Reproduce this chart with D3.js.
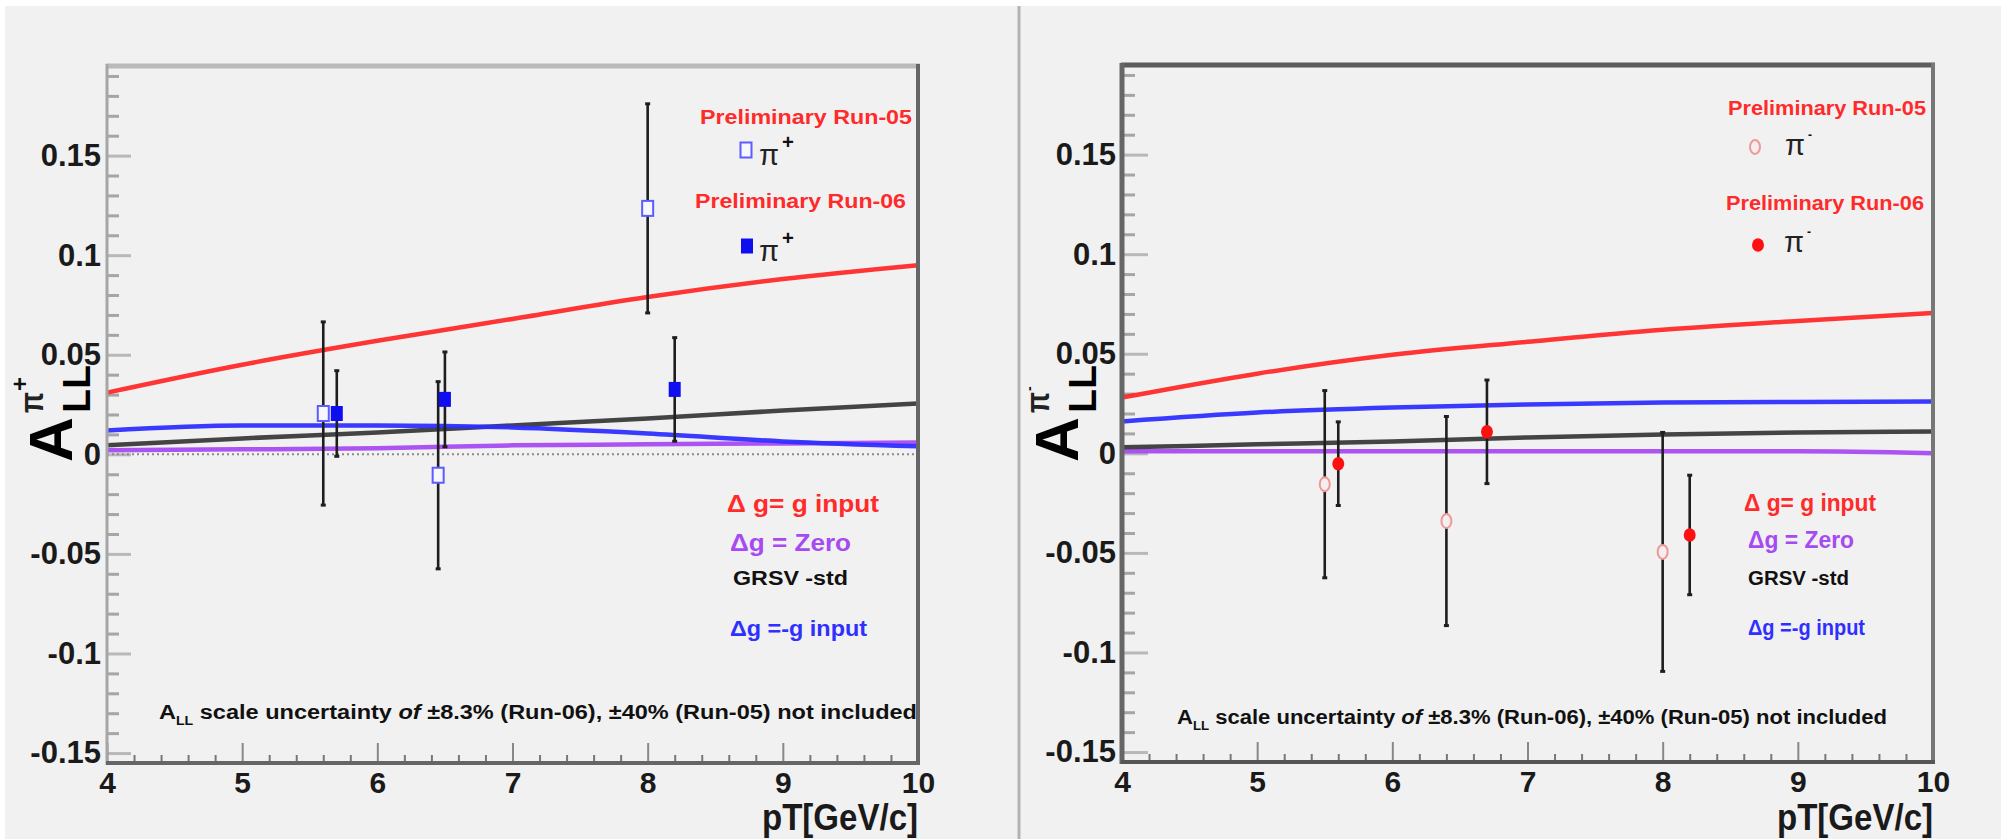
<!DOCTYPE html>
<html><head><meta charset="utf-8">
<script src="https://cdn.jsdelivr.net/npm/d3@7"></script>
<style>
html,body{margin:0;padding:0;background:#fff;overflow:hidden}
svg{display:block}
text{font-family:'Liberation Sans',Arial,Helvetica,sans-serif}
</style></head><body>
<script>
// ---------- data ----------
const xTickValues = [4,5,6,7,8,9,10];
const xTickLabels = ["4","5","6","7","8","9","10"];
const yTickValues = [-0.15,-0.1,-0.05,0,0.05,0.1,0.15];
const yTickLabels = ["-0.15","-0.1","-0.05","0","0.05","0.1","0.15"];
const modelPt = [4,5,6,7,8,9,10];

// pi+ theory curves
const piPlusGInput = [0.031,0.045,0.057,0.068,0.079,0.088,0.095];
const piPlusZero   = [0.002,0.0025,0.003,0.0045,0.005,0.0055,0.006];
const piPlusStd    = [0.0045,0.008,0.011,0.0145,0.018,0.022,0.0255];
const piPlusMinusG = [0.012,0.0145,0.0145,0.0135,0.0105,0.0065,0.004];
// pi- theory curves
const piMinusGInput = [0.028,0.040,0.0495,0.056,0.062,0.0665,0.0705];
const piMinusZero   = [0.001,0.001,0.001,0.001,0.001,0.001,0.0];
const piMinusStd    = [0.003,0.0045,0.006,0.008,0.0095,0.0105,0.011];
const piMinusMinusG = [0.016,0.0205,0.023,0.0245,0.0255,0.0258,0.026];

// pi+ measurements
const piPlusRun05Pt  = [5.6,6.45,8.0];
const piPlusRun05A   = [0.0205,-0.0105,0.1235];
const piPlusRun05Err = [0.046,0.047,0.0525];
const piPlusRun06Pt  = [5.7,6.5,8.2];
const piPlusRun06A   = [0.0205,0.0276,0.0326];
const piPlusRun06Err = [0.0215,0.0238,0.026];
// pi- measurements
const piMinusRun05Pt  = [5.5,6.4,8.0];
const piMinusRun05A   = [-0.0155,-0.034,-0.0495];
const piMinusRun05Err = [0.047,0.0525,0.06];
const piMinusRun06Pt  = [5.6,6.7,8.2];
const piMinusRun06A   = [-0.0052,0.0108,-0.041];
const piMinusRun06Err = [0.021,0.026,0.030];

const yMinorTicks = d3.range(-15,20).map(i=>i/100).filter(v=>!yTickValues.some(t=>Math.abs(t-v)<1e-9));
const xMinorTicks = d3.range(20,51).map(i=>i/5).filter(v=>!xTickValues.includes(v));

// ---------- drawing ----------
const W=2001,H=839;
const svg=d3.select("body").append("svg").attr("width",W).attr("height",H);
svg.append("rect").attr("width",W).attr("height",H).attr("fill","#fff");
svg.append("rect").attr("x",5).attr("y",6).attr("width",W-5).attr("height",H-6).attr("fill","#f1f1f1");
svg.append("line").attr("x1",1019).attr("x2",1019).attr("y1",6).attr("y2",H).attr("stroke","#b3b3b3").attr("stroke-width",3);

const RED="#ff2a2a", BLUE="#2f2fff", PURPLE="#a64af2", BLACK="#3a3a3a";

function txt(g,x,y,s,o){
  const t=g.append("text").attr("x",x).attr("y",y).text(s)
    .attr("font-size",o.size).attr("font-weight",o.weight||"bold").attr("fill",o.color||"#111");
  if(o.len){t.attr("textLength",o.len).attr("lengthAdjust","spacingAndGlyphs");}
  if(o.anchor) t.attr("text-anchor",o.anchor);
  return t;
}

function drawPanel(p){
  const g=svg.append("g");
  const x=d3.scaleLinear().domain([4,10]).range([p.x0,p.x1]);
  const y=d3.scaleLinear().domain([-0.155,0.195]).range([p.y1,p.y0]);

  // y minor & major ticks
  const yMin=g.append("g").attr("transform",`translate(${p.x0},0)`)
    .call(d3.axisLeft(y).tickValues(yMinorTicks).tickSize(-p.yMinorLen).tickFormat(""));
  yMin.select(".domain").remove();
  yMin.selectAll("line").attr("stroke","#a5a5a5").attr("stroke-width",3);
  const yMaj=g.append("g").attr("transform",`translate(${p.x0},0)`)
    .call(d3.axisLeft(y).tickValues(yTickValues).tickSize(-p.yMajorLen).tickPadding(p.yPad).tickFormat((d,i)=>yTickLabels[i]));
  yMaj.select(".domain").remove();
  yMaj.selectAll("line").attr("stroke","#b8b8b8").attr("stroke-width",3);
  yMaj.selectAll("text").attr("font-size",31).attr("font-weight","bold").attr("fill","#1a1a1a")
    .attr("font-family","'Liberation Sans',Arial,sans-serif");

  // x ticks
  const xMin=g.append("g").attr("transform",`translate(0,${p.y1})`)
    .call(d3.axisBottom(x).tickValues(xMinorTicks).tickSize(-8).tickFormat(""));
  xMin.select(".domain").remove();
  xMin.selectAll("line").attr("stroke","#777").attr("stroke-width",2);
  const xMaj=g.append("g").attr("transform",`translate(0,${p.y1})`)
    .call(d3.axisBottom(x).tickValues(xTickValues).tickSize(-20).tickPadding(9).tickFormat((d,i)=>xTickLabels[i]));
  xMaj.select(".domain").remove();
  xMaj.selectAll("line").attr("stroke","#888").attr("stroke-width",2);
  xMaj.selectAll("text").attr("font-size",30).attr("font-weight","bold").attr("fill","#1a1a1a")
    .attr("font-family","'Liberation Sans',Arial,sans-serif");

  // zero dotted line
  if(p.zeroLine){
    g.append("line").attr("x1",p.x0).attr("x2",p.x1).attr("y1",y(0)).attr("y2",y(0))
      .attr("stroke","#8a8a8a").attr("stroke-width",2).attr("stroke-dasharray","2,3");
  }

  // theory curves
  const line=d3.line().x((d,i)=>x(modelPt[i])).y(d=>y(d)).curve(d3.curveMonotoneX);
  p.curves.forEach(c=>{
    g.append("path").datum(c.v).attr("d",line).attr("fill","none")
      .attr("stroke",c.color).attr("stroke-width",c.w||4.5).attr("stroke-opacity",c.op||0.95);
  });

  // error bars
  function errs(pt,a,e){
    pt.forEach((v,i)=>{
      g.append("line").attr("x1",x(v)).attr("x2",x(v)).attr("y1",y(a[i]+e[i])).attr("y2",y(a[i]-e[i]))
        .attr("stroke","#1e1e1e").attr("stroke-width",2.6);
      [a[i]+e[i],a[i]-e[i]].forEach(yy=>{
        g.append("line").attr("x1",x(v)-2.5).attr("x2",x(v)+2.5).attr("y1",y(yy)).attr("y2",y(yy))
          .attr("stroke","#1e1e1e").attr("stroke-width",3);
      });
    });
  }
  errs(p.r05.pt,p.r05.a,p.r05.e);
  errs(p.r06.pt,p.r06.a,p.r06.e);

  // markers
  p.r05.pt.forEach((v,i)=>p.mark05(g,x(v),y(p.r05.a[i])));
  p.r06.pt.forEach((v,i)=>p.mark06(g,x(v),y(p.r06.a[i])));

  // frame
  const f=p.frame;
  g.append("line").attr("x1",p.x0-1).attr("x2",p.x1+2).attr("y1",p.y0).attr("y2",p.y0).attr("stroke",f.top).attr("stroke-width",5);
  g.append("line").attr("x1",p.x0).attr("x2",p.x0).attr("y1",p.y0-2).attr("y2",p.y1+2).attr("stroke",f.left).attr("stroke-width",f.lw);
  g.append("line").attr("x1",p.x1).attr("x2",p.x1).attr("y1",p.y0-2).attr("y2",p.y1+2).attr("stroke",f.right).attr("stroke-width",4);
  g.append("line").attr("x1",p.x0-1).attr("x2",p.x1+2).attr("y1",p.y1).attr("y2",p.y1).attr("stroke",f.bottom).attr("stroke-width",4);

  // x title
  txt(g,p.x1,830,"pT[GeV/c]",{size:36,anchor:"end",len:156,color:"#1a1a1a"});

  // y title
  const yt=g.append("g").attr("transform",`translate(${p.yt[0]},${p.yt[1]}) rotate(-90)`);
  txt(yt,0,0,"A",{size:62,color:"#000"});
  txt(yt,49,18,"LL",{size:39,color:"#000",len:48});
  txt(yt,49,-29,"π",{size:34,color:"#222",len:21});
  txt(yt,71,-44,p.sign,{size:p.signSize,color:"#111"});

  // legend
  const L=p.leg;
  txt(g,L.r05[0],L.r05[1],"Preliminary Run-05",{size:21,color:RED,len:L.r05[2]});
  txt(g,L.r06[0],L.r06[1],"Preliminary Run-06",{size:21,color:RED,len:L.r06[2]});
  p.mark05(g,L.m05[0],L.m05[1]);
  p.mark06(g,L.m06[0],L.m06[1]);
  [[L.m05,L.pi05],[L.m06,L.pi06]].forEach(([m,pi])=>{
    txt(g,pi[0],pi[1],"π",{size:30,color:"#222",weight:"normal",len:20});
    txt(g,pi[0]+23,pi[1]-16,p.sign,{size:p.signSize*0.85,color:"#111"});
  });

  // model labels
  const M=p.mod;
  txt(g,M[0][0],M[0][1],"Δ g= g input",{size:24,color:RED,len:M[0][2]});
  txt(g,M[1][0],M[1][1],"Δg = Zero",{size:24,color:PURPLE,len:M[1][2]});
  txt(g,M[2][0],M[2][1],"GRSV -std",{size:20,color:"#111",len:M[2][2]});
  txt(g,M[3][0],M[3][1],"Δg =-g input",{size:22,color:BLUE,len:M[3][2]});

  // note
  const n=g.append("text").attr("x",p.note[0]).attr("y",p.note[1]).attr("font-size",20).attr("font-weight","bold")
    .attr("fill","#111").attr("textLength",p.note[2]).attr("lengthAdjust","spacingAndGlyphs");
  n.append("tspan").text("A");
  n.append("tspan").attr("font-size",12).attr("dy",6).text("LL");
  n.append("tspan").attr("dy",-6).text(" scale uncertainty ");
  n.append("tspan").attr("font-style","italic").text("of");
  n.append("tspan").text(" ±8.3% (Run-06), ±40% (Run-05) not included");
}

function openSquare(g,cx,cy){g.append("rect").attr("x",cx-5.5).attr("y",cy-7.5).attr("width",11).attr("height",15)
  .attr("fill","#f7f7ff").attr("stroke","#5c5cff").attr("stroke-width",2);}
function fullSquare(g,cx,cy){g.append("rect").attr("x",cx-6).attr("y",cy-7.5).attr("width",12).attr("height",15)
  .attr("fill","#0e0ef0");}
function openCircle(g,cx,cy){g.append("ellipse").attr("cx",cx).attr("cy",cy).attr("rx",5).attr("ry",7)
  .attr("fill","#f4eeee").attr("stroke","#f09898").attr("stroke-width",2);}
function fullCircle(g,cx,cy){g.append("ellipse").attr("cx",cx).attr("cy",cy).attr("rx",6).attr("ry",6.8)
  .attr("fill","#ff1010");}

drawPanel({
  x0:107,x1:918,y0:66,y1:763,yMajorLen:24,yMinorLen:12,yPad:6,zeroLine:true,
  frame:{top:"#bababa",left:"#a6a6a6",lw:3,right:"#666",bottom:"#666"},
  curves:[
    {v:piPlusZero,color:PURPLE},
    {v:piPlusStd,color:BLACK},
    {v:piPlusMinusG,color:BLUE},
    {v:piPlusGInput,color:RED}
  ],
  r05:{pt:piPlusRun05Pt,a:piPlusRun05A,e:piPlusRun05Err},
  r06:{pt:piPlusRun06Pt,a:piPlusRun06A,e:piPlusRun06Err},
  mark05:openSquare, mark06:fullSquare,
  sign:"+", signSize:24,
  yt:[72,462],
  leg:{r05:[700,124,212],r06:[695,208,211],m05:[746,150],m06:[747,246],pi05:[759,165],pi06:[759,261]},
  mod:[[727,512,152],[730,551,121],[733,585,115],[730,636,137]],
  note:[159,719,758]
});

drawPanel({
  x0:1122,x1:1933,y0:65,y1:762,yMajorLen:26,yMinorLen:13,yPad:6,zeroLine:false,
  frame:{top:"#5c5c5c",left:"#666",lw:5,right:"#777",bottom:"#555"},
  curves:[
    {v:piMinusZero,color:PURPLE},
    {v:piMinusStd,color:BLACK},
    {v:piMinusMinusG,color:BLUE},
    {v:piMinusGInput,color:RED}
  ],
  r05:{pt:piMinusRun05Pt,a:piMinusRun05A,e:piMinusRun05Err},
  r06:{pt:piMinusRun06Pt,a:piMinusRun06A,e:piMinusRun06Err},
  mark05:openCircle, mark06:fullCircle,
  sign:"-", signSize:14,
  yt:[1078,462],
  leg:{r05:[1728,115,198],r06:[1726,210,198],m05:[1755,147],m06:[1758,245],pi05:[1785,155],pi06:[1784,252]},
  mod:[[1744,511,132],[1748,548,106],[1748,585,101],[1748,635,117]],
  note:[1177,724,710]
});
</script>
</body></html>
